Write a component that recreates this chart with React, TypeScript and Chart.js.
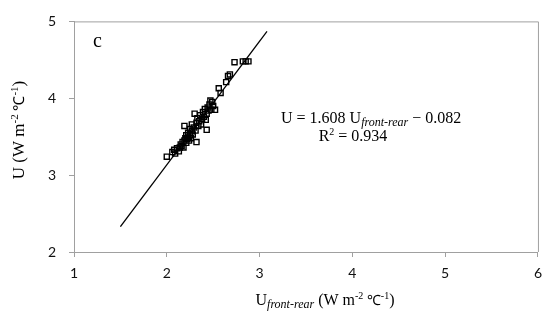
import React, { useEffect, useRef } from "react";
import { Chart, registerables } from "chart.js";

Chart.register(...registerables);

const xValues = [2.00,2.06,2.08,2.09,2.11,2.13,2.14,2.15,2.16,2.17,2.18,2.19,2.19,2.20,2.21,2.21,2.22,2.23,2.23,2.24,2.25,2.25,2.26,2.27,2.27,2.28,2.29,2.30,2.31,2.32,2.32,2.33,2.34,2.35,2.36,2.37,2.38,2.39,2.40,2.41,2.42,2.43,2.43,2.44,2.45,2.46,2.47,2.48,2.49,2.50,2.52,2.56,2.58,2.64,2.66,2.68,2.73,2.82,2.85,2.88];
const yValues = [3.24,3.30,3.33,3.28,3.35,3.31,3.36,3.40,3.38,3.43,3.36,3.45,3.64,3.48,3.42,3.52,3.47,3.50,3.55,3.45,3.52,3.60,3.48,3.57,3.66,3.53,3.62,3.80,3.58,3.43,3.68,3.74,3.64,3.70,3.78,3.66,3.73,3.82,3.76,3.86,3.72,3.59,3.80,3.88,3.84,3.92,3.97,3.85,3.95,3.90,3.85,4.13,4.07,4.21,4.29,4.31,4.47,4.48,4.48,4.48];
const fitX = [1.5, 3.08];
const slope = 1.608;
const intercept = -0.082;
const xTicks = [1, 2, 3, 4, 5, 6];
const yTicks = [2, 3, 4, 5];

type Seg = { t: string; f: string; dy?: number };

function drawRich(ctx: CanvasRenderingContext2D, segs: Seg[], x: number, y: number, align: "left" | "center") {
  let total = 0;
  for (const s of segs) { ctx.font = s.f; total += ctx.measureText(s.t).width; }
  let cx = align === "center" ? x - total / 2 : x;
  ctx.textAlign = "left";
  ctx.textBaseline = "alphabetic";
  for (const s of segs) {
    ctx.font = s.f;
    ctx.fillText(s.t, cx, y + (s.dy || 0));
    cx += ctx.measureText(s.t).width;
  }
}

const SERIF = "'Liberation Serif', 'Times New Roman', serif";

const textPlugin = {
  id: "richText",
  afterDraw(chart: any) {
    const ctx = chart.ctx as CanvasRenderingContext2D;
    const a = chart.chartArea;
    ctx.save();
    ctx.strokeStyle = "#a0a0a0";
    ctx.lineWidth = 1;
    ctx.beginPath();
    ctx.moveTo(a.left, a.top + 0.5);
    ctx.lineTo(a.right + 0.5, a.top + 0.5);
    ctx.lineTo(a.right + 0.5, a.bottom);
    ctx.stroke();
    ctx.fillStyle = "#000";
    ctx.font = `20px ${SERIF}`;
    ctx.textAlign = "left";
    ctx.fillText("c", 93, 47);
    drawRich(ctx, [
      { t: "U = 1.608 U", f: `16px ${SERIF}` },
      { t: "front-rear", f: `italic 12px ${SERIF}`, dy: 3 },
      { t: " \u2212 0.082", f: `16px ${SERIF}` },
    ], 281, 123, "left");
    drawRich(ctx, [
      { t: "R", f: `16px ${SERIF}` },
      { t: "2", f: `10px ${SERIF}`, dy: -6 },
      { t: " = 0.934", f: `16px ${SERIF}` },
    ], 353, 141, "center");
    drawRich(ctx, [
      { t: "U", f: `16px ${SERIF}` },
      { t: "front-rear", f: `italic 12px ${SERIF}`, dy: 3 },
      { t: " (W m", f: `16px ${SERIF}` },
      { t: "-2", f: `10px ${SERIF}`, dy: -6 },
      { t: " \u2103", f: `14px ${SERIF}` },
      { t: "-1", f: `10px ${SERIF}`, dy: -6 },
      { t: ")", f: `16px ${SERIF}` },
    ], 325, 305, "center");
    ctx.translate(24, 130);
    ctx.rotate(-Math.PI / 2);
    drawRich(ctx, [
      { t: "U (W m", f: `17px ${SERIF}` },
      { t: "-2", f: `11px ${SERIF}`, dy: -6 },
      { t: " \u2103", f: `15px ${SERIF}` },
      { t: "-1", f: `11px ${SERIF}`, dy: -6 },
      { t: ")", f: `17px ${SERIF}` },
    ], 0, 0, "center");
    ctx.restore();
  },
};

export default function App() {
  const ref = useRef<HTMLCanvasElement>(null);
  useEffect(() => {
    if (!ref.current) return;
    const points = xValues.map((x, i) => ({ x, y: yValues[i] }));
    const line = fitX.map((x) => ({ x, y: slope * x + intercept }));
    const tickFont = { family: "Lato, 'Open Sans', sans-serif", size: 14 };
    const chart = new Chart(ref.current, {
      type: "scatter",
      data: {
        datasets: [
          {
            data: points,
            pointStyle: "rect",
            pointRadius: 3.6,
            pointBorderColor: "#000",
            pointBackgroundColor: "rgba(255,255,255,0)",
            pointBorderWidth: 1.4,
            showLine: false,
          },
          {
            data: line,
            showLine: true,
            borderColor: "#000",
            borderWidth: 1.3,
            pointRadius: 0,
          },
        ],
      },
      options: {
        animation: false,
        responsive: false,
        layout: { padding: { left: 0, top: 16, right: 8, bottom: 0 } },
        plugins: { legend: { display: false }, tooltip: { enabled: false } },
        scales: {
          x: {
            type: "linear",
            min: 1,
            max: 6,
            afterBuildTicks: (s: any) => { s.ticks = xTicks.map((v) => ({ value: v })); },
            afterFit: (s: any) => { s.height = 69; },
            ticks: { color: "#111", font: tickFont, padding: 8 },
            grid: { drawOnChartArea: false, drawTicks: true, tickLength: 5, color: "#a0a0a0" },
            border: { display: true, color: "#a0a0a0" },
          },
          y: {
            type: "linear",
            min: 2,
            max: 5,
            afterBuildTicks: (s: any) => { s.ticks = yTicks.map((v) => ({ value: v })); },
            afterFit: (s: any) => { s.width = 74; },
            ticks: { color: "#111", font: tickFont, padding: 13 },
            grid: { drawOnChartArea: false, drawTicks: true, tickLength: 5, color: "#a0a0a0" },
            border: { display: true, color: "#a0a0a0" },
          },
        },
      },
      plugins: [textPlugin],
    });
    return () => chart.destroy();
  }, []);
  return (
    <div style={{ position: "fixed", left: 0, top: 0, width: 550, height: 321, background: "#fff" }}>
      <canvas ref={ref} width={550} height={321} style={{ width: 550, height: 321 }} />
    </div>
  );
}
